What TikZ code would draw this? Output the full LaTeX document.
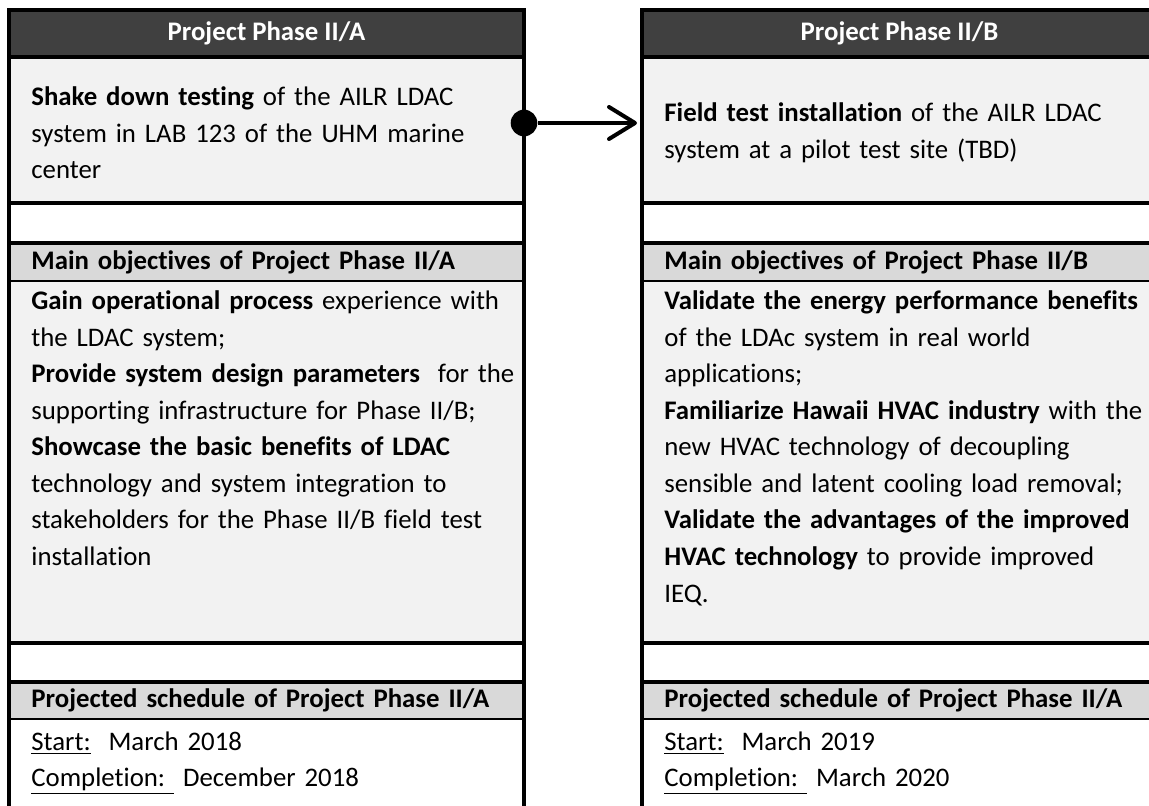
\documentclass[tikz,border=0pt]{standalone}
\usepackage{fontspec}
\setmainfont{Carlito}[Ligatures=CommonOff]
\usetikzlibrary{arrows.meta}

\definecolor{headgray}{HTML}{404040}
\definecolor{bargray}{HTML}{D9D9D9}
\definecolor{panegray}{HTML}{F2F2F2}

\tikzset{
  cell/.style={anchor=north west,minimum width=257.5pt,inner sep=0pt,outer sep=0pt},
  rule/.style={line width=2pt,line cap=rect},
  thinrule/.style={line width=1.25pt},
  txt/.style={text width=250pt,align=left,inner sep=0pt},
  link/.style={line width=2pt,-{Straight Barb[length=13pt,width=16pt,round]},shorten >=2.5pt}
}

\begin{document}
\fontsize{13.4}{18.25}\selectfont
\begin{tikzpicture}[x=0.5pt,y=-0.5pt]
\useasboundingbox (0,0) rectangle (1149,806);

% the two phase panels, cell by cell
\foreach \c/\x in {A/9,B/642} {
  \node[cell,fill=headgray,minimum height=23.5pt] (hd\c) at (\x,10) {};
  \node[cell,fill=panegray,minimum height=73pt] (intro\c) at (\x,57) {};
  \node[cell,fill=white,minimum height=20pt] (gap\c) at (\x,203) {};
  \node[cell,fill=bargray,minimum height=19pt] (objhd\c) at (\x,243) {};
  \node[cell,fill=panegray,minimum height=181pt] (obj\c) at (\x,281) {};
  \node[cell,fill=white,minimum height=19.5pt] (gapb\c) at (\x,643) {};
  \node[cell,fill=bargray,minimum height=18.5pt] (schhd\c) at (\x,682) {};
  \node[cell,fill=white,minimum height=46pt] (sch\c) at (\x,719) {};
  % frame and dividers
  \draw[rule] (sch\c.south west) |- (hd\c.north east) -- (sch\c.south east);
  \foreach \r in {intro,gap,objhd,gapb,schhd}
    \draw[rule] (\r\c.north west) -- (\r\c.north east);
  \foreach \r in {obj,sch}
    \draw[thinrule] (\r\c.north west) -- (\r\c.north east);
}

% phase II/A
\node[text=white,font=\bfseries] (hdAtxt) at (hdA) {Project Phase II/A};
\node[txt,anchor=west] (introAtxt) at ([xshift=11pt,yshift=-1.5pt]introA.west)
  {\textbf{Shake down testing} of the AILR LDAC\\
   system in LAB 123 of the UHM marine\\
   center};
\node[txt,anchor=west,font=\bfseries] (objhdAtxt) at ([xshift=11pt]objhdA.west)
  {Main objectives of Project Phase II/A};
\node[txt,anchor=base west] (objAtxt) at ([xshift=11pt,yshift=-14.5pt]objA.north west)
  {\textbf{Gain operational process} experience with\\
   the LDAC system;\\
   \textbf{Provide system design parameters}\ \ for the\\
   supporting infrastructure for Phase II/B;\\
   \textbf{Showcase the basic benefits of LDAC}\\
   technology and system integration to\\
   stakeholders for the Phase II/B field test\\
   installation};
\node[txt,anchor=west,font=\bfseries] (schhdAtxt) at ([xshift=11pt]schhdA.west)
  {Projected schedule of Project Phase II/A};
\node[txt,anchor=base west] (schAtxt) at ([xshift=11pt,yshift=-15.5pt]schA.north west)
  {\underline{Start:}\ \ March 2018\\
   \underline{Completion:\ }\ December 2018};

% phase II/B
\node[text=white,font=\bfseries] (hdBtxt) at (hdB) {Project Phase II/B};
\node[txt,anchor=west] (introBtxt) at ([xshift=11pt,yshift=-1.5pt]introB.west)
  {\textbf{Field test installation} of the AILR LDAC\\
   system at a pilot test site (TBD)};
\node[txt,anchor=west,font=\bfseries] (objhdBtxt) at ([xshift=11pt]objhdB.west)
  {Main objectives of Project Phase II/B};
\node[txt,anchor=base west] (objBtxt) at ([xshift=11pt,yshift=-14.5pt]objB.north west)
  {\textbf{Validate the energy performance benefits}\\
   of the LDAc system in real world\\
   applications;\\
   \textbf{Familiarize Hawaii HVAC industry} with the\\
   new HVAC technology of decoupling\\
   sensible and latent cooling load removal;\\
   \textbf{Validate the advantages of the improved}\\
   \textbf{HVAC technology} to provide improved\\
   IEQ.};
\node[txt,anchor=west,font=\bfseries] (schhdBtxt) at ([xshift=11pt]schhdB.west)
  {Projected schedule of Project Phase II/A};
\node[txt,anchor=base west] (schBtxt) at ([xshift=11pt,yshift=-15.5pt]schB.north west)
  {\underline{Start:}\ \ March 2019\\
   \underline{Completion:\ }\ March 2020};

% hand-over arrow
\node[circle,fill=black,inner sep=0pt,minimum size=13.3pt] (dot) at (524,123) {};
\draw[link] (dot) -- (dot -| introB.west);
\end{tikzpicture}
\end{document}
